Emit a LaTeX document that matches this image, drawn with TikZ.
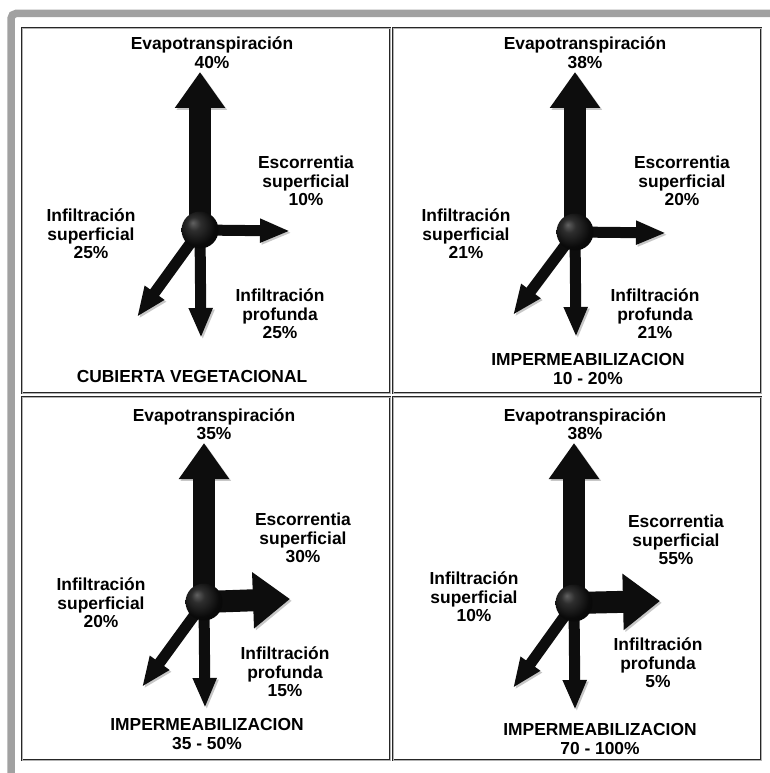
\documentclass[tikz,border=0pt]{standalone}
\usepackage{fontspec}
\setmainfont{Liberation Sans}
\usetikzlibrary{arrows.meta}

\pgfdeclareradialshading{darkball}{\pgfpoint{-10bp}{10bp}}{color(0bp)=(black!62); color(9bp)=(black!82); color(25bp)=(black!96); color(50bp)=(black)}

\begin{document}
\begin{tikzpicture}[x=1pt,y=-1pt]
  \tikzset{lbl/.style = {align=center,inner sep=0pt,font=\bfseries\fontsize{17.4}{18.5}\selectfont}}
  \tikzset{panel/.style = {draw=black!85,double=black!30,double distance=.8pt,line width=.7pt}}
  \tikzset{hub/.style = {circle,minimum size=37pt,inner sep=0pt,shading=darkball}}
  \tikzset{flowshadow/.style = {preaction={draw=black!22,transform canvas={shift={(1.8pt,-1.8pt)}}}}}
  \tikzset{upflow/.style = {flowshadow,draw=black!95,line width=22pt,-{Triangle[length=36pt,width=48pt]}}}
  \tikzset{thinflow/.style = {flowshadow,draw=black!95,line width=11pt,-{Triangle[length=30pt,width=22pt]}}}
  \tikzset{wideflow/.style = {flowshadow,draw=black!95,line width=22pt,-{Triangle[length=37pt,width=54pt]}}}

  \useasboundingbox (0,0) rectangle (769,773);
  % gray frame
  \draw[black!37,line width=7.5pt,rounded corners=5pt] (11,790) -- (11,13.5) -- (790,13.5);

  % panels
  \draw[panel] (22,28) rectangle (390,393);
  \draw[panel] (393,28) rectangle (761,393);
  \draw[panel] (22,397) rectangle (390,760);
  \draw[panel] (393,397) rectangle (761,760);

  % centres and arrow tips
  \coordinate (cA) at (200,230);  \coordinate (upA) at (200,72);
  \coordinate (rtA) at (290,231); \coordinate (dnA) at (201,338);
  \coordinate (dgA) at (137,317);
  \coordinate (cB) at (575,232);  \coordinate (upB) at (575,72);
  \coordinate (rtB) at (666,233); \coordinate (dnB) at (576,337);
  \coordinate (dgB) at (513,315);
  \coordinate (cC) at (204,602);  \coordinate (upC) at (204,443);
  \coordinate (rtC) at (290,599); \coordinate (dnC) at (205,708);
  \coordinate (dgC) at (142,687);
  \coordinate (cD) at (574,603);  \coordinate (upD) at (574,443);
  \coordinate (rtD) at (660,601); \coordinate (dnD) at (575,710);
  \coordinate (dgD) at (513,688);

  \foreach \p in {A,B,C,D} {
    \draw[thinflow] (c\p) -- (dn\p);
    \draw[thinflow] (c\p) -- (dg\p);
    \draw[upflow] (c\p) -- (up\p);
  }
  \foreach \p/\s in {A/thinflow,B/thinflow,C/wideflow,D/wideflow}
    \draw[\s] (c\p) -- (rt\p);

  \foreach \p in {A,B,C,D}
    \node[hub] (hub\p) at (c\p) {};

  % top left
  \node[lbl] (evA) at (212,52.5) {Evapotranspiración\\40\%};
  \node[lbl] (esA) at (306,181) {Escorrentia\\superficial\\10\%};
  \node[lbl] (isA) at (91,234) {Infiltración\\superficial\\25\%};
  \node[lbl] (ipA) at (280,314) {Infiltración\\profunda\\25\%};
  \node[lbl] (tA) at (192,377) {CUBIERTA VEGETACIONAL};
  % top right
  \node[lbl] (evB) at (585,52.5) {Evapotranspiración\\38\%};
  \node[lbl] (esB) at (682,181) {Escorrentia\\superficial\\20\%};
  \node[lbl] (isB) at (466,234) {Infiltración\\superficial\\21\%};
  \node[lbl] (ipB) at (655,314) {Infiltración\\profunda\\21\%};
  \node[lbl] (tB) at (588,369) {IMPERMEABILIZACION\\10 - 20\%};
  % bottom left
  \node[lbl] (evC) at (214,424) {Evapotranspiración\\35\%};
  \node[lbl] (esC) at (303,538) {Escorrentia\\superficial\\30\%};
  \node[lbl] (isC) at (101,603) {Infiltración\\superficial\\20\%};
  \node[lbl] (ipC) at (285,672) {Infiltración\\profunda\\15\%};
  \node[lbl] (tC) at (207,734) {IMPERMEABILIZACION\\35 - 50\%};
  % bottom right
  \node[lbl] (evD) at (585,424) {Evapotranspiración\\38\%};
  \node[lbl] (esD) at (676,540) {Escorrentia\\superficial\\55\%};
  \node[lbl] (isD) at (474,597) {Infiltración\\superficial\\10\%};
  \node[lbl] (ipD) at (658,663) {Infiltración\\profunda\\5\%};
  \node[lbl] (tD) at (600,739) {IMPERMEABILIZACION\\70 - 100\%};
\end{tikzpicture}
\end{document}
